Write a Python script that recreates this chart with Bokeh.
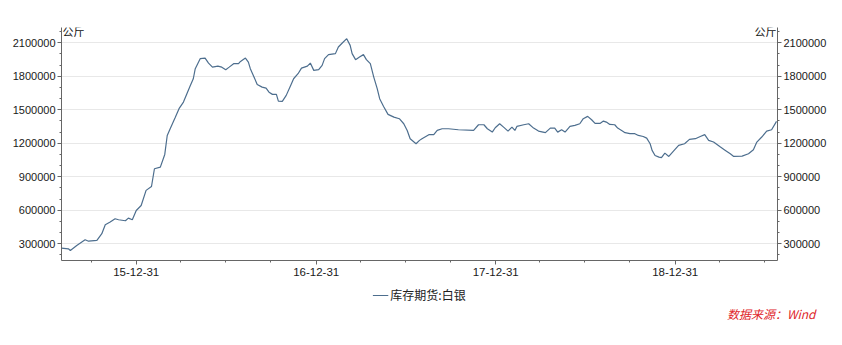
import pandas as pd
from bokeh.plotting import figure
from bokeh.layouts import column
from bokeh.models import (LinearAxis, Range1d, FixedTicker, Legend, LegendItem, Label, Title)
from bokeh.embed import file_html
from bokeh.resources import INLINE

# ---- data ----
dates = [
    "2015-08-01", "2015-08-15", "2015-08-19", "2015-09-01", "2015-09-18", "2015-09-25",
    "2015-10-12", "2015-10-22", "2015-10-29", "2015-11-08", "2015-11-18", "2015-11-25",
    "2015-12-09", "2015-12-15", "2015-12-23", "2015-12-31", "2016-01-10", "2016-01-20",
    "2016-01-31", "2016-02-06", "2016-02-18", "2016-02-27", "2016-03-03", "2016-03-09",
    "2016-03-19", "2016-03-27", "2016-04-05", "2016-04-12", "2016-04-19", "2016-04-25",
    "2016-04-29", "2016-05-09", "2016-05-19", "2016-05-26", "2016-06-03", "2016-06-14",
    "2016-06-22", "2016-06-30", "2016-07-07", "2016-07-16", "2016-07-26", "2016-07-30",
    "2016-08-09", "2016-08-15", "2016-08-19", "2016-08-26", "2016-09-02", "2016-09-12",
    "2016-09-20", "2016-09-26", "2016-10-03", "2016-10-11", "2016-10-15", "2016-10-23",
    "2016-10-31", "2016-11-09", "2016-11-15", "2016-11-24", "2016-12-01", "2016-12-13",
    "2016-12-19", "2016-12-26", "2017-01-05", "2017-01-12", "2017-01-17", "2017-01-25",
    "2017-02-08", "2017-02-14", "2017-02-22", "2017-03-03", "2017-03-10", "2017-03-14",
    "2017-03-21", "2017-03-29", "2017-04-06", "2017-04-12", "2017-04-20", "2017-04-27",
    "2017-05-04", "2017-05-09", "2017-05-17", "2017-05-26", "2017-06-07", "2017-06-18",
    "2017-06-27", "2017-07-04", "2017-07-10", "2017-07-22", "2017-07-29", "2017-08-03",
    "2017-08-17", "2017-08-27", "2017-09-03", "2017-09-13", "2017-09-26", "2017-10-16",
    "2017-11-16", "2017-11-26", "2017-12-07", "2017-12-14", "2017-12-24", "2017-12-30",
    "2018-01-08", "2018-01-16", "2018-01-25", "2018-02-02", "2018-02-08", "2018-02-12",
    "2018-02-26", "2018-03-08", "2018-03-18", "2018-03-28", "2018-04-11", "2018-04-21",
    "2018-04-30", "2018-05-06", "2018-05-14", "2018-05-21", "2018-05-31", "2018-06-10",
    "2018-06-20", "2018-06-27", "2018-07-06", "2018-07-14", "2018-07-21", "2018-07-31",
    "2018-08-07", "2018-08-13", "2018-08-20", "2018-08-30", "2018-09-05", "2018-09-13",
    "2018-09-20", "2018-09-30", "2018-10-10", "2018-10-17", "2018-10-27", "2018-11-03",
    "2018-11-10", "2018-11-14", "2018-11-20", "2018-11-28", "2018-12-03", "2018-12-10",
    "2018-12-18", "2018-12-27", "2019-01-07", "2019-01-19", "2019-01-29", "2019-02-10",
    "2019-02-20", "2019-03-01", "2019-03-09", "2019-03-19", "2019-04-02", "2019-04-12",
    "2019-04-22", "2019-04-29", "2019-05-16", "2019-05-29", "2019-06-08", "2019-06-15",
    "2019-06-25", "2019-07-05", "2019-07-15", "2019-07-25",
]
silver_stock = [
    260000, 255000, 240000, 285000, 336000, 323000,
    330000, 390000, 470000, 494000, 524000, 515000,
    506000, 530000, 515000, 598000, 643000, 778000,
    813000, 972000, 986000, 1100000, 1270000, 1330000,
    1429000, 1510000, 1569000, 1644000, 1718000, 1778000,
    1868000, 1958000, 1963000, 1918000, 1882000, 1891000,
    1882000, 1859000, 1882000, 1913000, 1913000, 1933000,
    1963000, 1927000, 1868000, 1799000, 1727000, 1703000,
    1694000, 1658000, 1638000, 1638000, 1578000, 1575000,
    1629000, 1718000, 1778000, 1823000, 1873000, 1891000,
    1918000, 1853000, 1859000, 1898000, 1958000, 1994000,
    2003000, 2062000, 2098000, 2137000, 2077000, 2003000,
    1949000, 1972000, 1994000, 1949000, 1913000, 1793000,
    1689000, 1599000, 1530000, 1459000, 1434000, 1420000,
    1375000, 1315000, 1241000, 1196000, 1226000, 1241000,
    1277000, 1277000, 1315000, 1330000, 1330000, 1321000,
    1315000, 1366000, 1366000, 1330000, 1300000, 1339000,
    1375000, 1345000, 1309000, 1345000, 1315000, 1351000,
    1366000, 1375000, 1336000, 1309000, 1295000, 1336000,
    1336000, 1300000, 1321000, 1300000, 1351000, 1360000,
    1375000, 1420000, 1441000, 1411000, 1378000, 1378000,
    1399000, 1390000, 1369000, 1366000, 1336000, 1315000,
    1295000, 1286000, 1286000, 1270000, 1261000, 1246000,
    1196000, 1136000, 1091000, 1076000, 1071000, 1112000,
    1082000, 1127000, 1181000, 1196000, 1235000, 1241000,
    1261000, 1277000, 1226000, 1211000, 1166000, 1136000,
    1106000, 1082000, 1085000, 1106000, 1142000, 1211000,
    1256000, 1309000, 1321000, 1396000,
]
x_tick_labels = ["15-12-31", "16-12-31", "17-12-31", "18-12-31"]
y_ticks = [300000, 600000, 900000, 1200000, 1500000, 1800000, 2100000]
series_name = "库存期货:白银"
unit_label = "公斤"
source_label = "数据来源：Wind"

LINE_COLOR = "#4d6e8e"
CJK = "Noto Sans CJK SC"

# ---- main chart ----
x = pd.to_datetime(dates)
x_start, x_end = pd.Timestamp("2015-08-01"), pd.Timestamp("2019-07-27")

p_main = figure(width=842, height=283, x_axis_type="datetime",
                output_backend="svg", toolbar_location=None,
                x_range=Range1d(x_start, x_end), y_range=Range1d(150000, 2237000),
                min_border_left=61, min_border_right=65,
                min_border_top=27, min_border_bottom=23)
p_main.outline_line_color = None
p_main.background_fill_color = "white"
p_main.border_fill_color = "white"

r = p_main.line(x, silver_stock, line_color=LINE_COLOR, line_width=1.2)

def ms(ts):
    return ts.value // 10**6

major_x = [ms(pd.Timestamp("20" + s)) for s in x_tick_labels]
minor_x = [ms(t) for t in pd.date_range("2015-09-30", "2019-06-30", freq="QE")]
p_main.xaxis.ticker = FixedTicker(ticks=major_x, minor_ticks=minor_x)
p_main.xaxis.major_label_overrides = {t: s for t, s in zip(major_x, x_tick_labels)}

minor_y = list(range(200000, 2300000, 100000))
yticker = FixedTicker(ticks=y_ticks, minor_ticks=minor_y)
p_main.yaxis.ticker = yticker
p_main.yaxis.major_label_overrides = {v: str(v) for v in y_ticks}

right_axis = LinearAxis(ticker=yticker,
                        major_label_overrides={v: str(v) for v in y_ticks})
p_main.add_layout(right_axis, "right")

for ax in list(p_main.xaxis) + list(p_main.yaxis):
    ax.axis_line_color = "#666666"
    ax.major_tick_line_color = "#666666"
    ax.minor_tick_line_color = "#666666"
    ax.major_tick_in = 0
    ax.major_tick_out = 4
    ax.minor_tick_in = 0
    ax.minor_tick_out = 2
    ax.major_label_text_color = "#1a1a1a"
    ax.major_label_text_font = "Liberation Sans"
    ax.major_label_standoff = 2
    ax.major_label_text_font_size = "11px"
p_main.xaxis.major_label_text_font_size = "11.5px"
p_main.xaxis.major_label_standoff = 3

p_main.xgrid.visible = False
p_main.ygrid.ticker = yticker
p_main.ygrid.grid_line_color = "#e8e8e8"

# unit labels at the top corners of the plot area
p_main.add_layout(Label(x=1, y=230, x_units="screen", y_units="screen",
                        text=unit_label, text_font=CJK, text_font_size="11px",
                        text_color="#111111", text_align="left",
                        text_baseline="middle"))
p_main.add_layout(Label(x=715, y=230, x_units="screen", y_units="screen",
                        text=unit_label, text_font=CJK, text_font_size="11px",
                        text_color="#111111", text_align="right",
                        text_baseline="middle"))

# ---- footer: legend + source ----
p_foot = figure(width=842, height=62, output_backend="svg", toolbar_location=None,
                x_axis_location=None, y_axis_location=None,
                x_range=Range1d(0, 1), y_range=Range1d(0, 1),
                min_border=0, min_border_left=0, min_border_right=0,
                min_border_top=0, min_border_bottom=42)
p_foot.outline_line_color = None
p_foot.xgrid.visible = False
p_foot.ygrid.visible = False
p_foot.background_fill_color = "white"
p_foot.border_fill_color = "white"

# same series drawn in the footer (outside its view) so the legend shows its style
r_foot = p_foot.line(x, silver_stock, line_color=LINE_COLOR, line_width=1.2)

legend = Legend(items=[LegendItem(label=series_name, renderers=[r_foot])],
                location="top_center", orientation="horizontal",
                border_line_color=None, background_fill_alpha=0,
                label_text_font=CJK, label_text_font_size="12px",
                label_text_color="#222222", glyph_width=16, glyph_height=14,
                label_height=14, label_standoff=2,
                padding=0, margin=3, spacing=0)
p_foot.add_layout(legend)

p_foot.add_layout(Title(text=source_label, align="right", offset=-38,
                        vertical_align="middle", standoff=0,
                        text_font=CJK, text_font_size="12px",
                        text_font_style="italic", text_color="#e0262b"),
                  "below")

p = column(p_main, p_foot, spacing=0)
open("out.html", "w").write(file_html(p, INLINE))
